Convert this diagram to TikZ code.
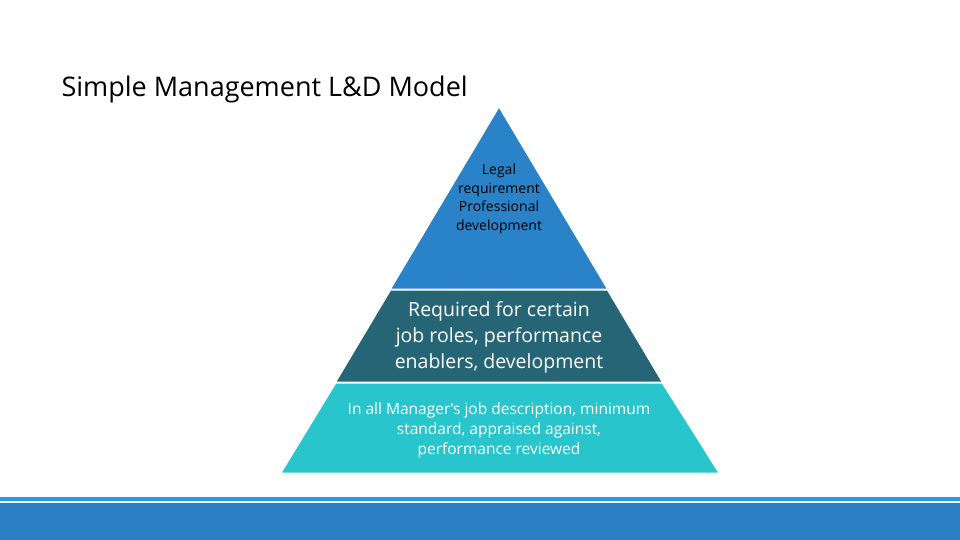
\documentclass[tikz,border=0pt]{standalone}
\usepackage{fontspec}
\setmainfont{Open Sans}
\definecolor{tiertop}{HTML}{2A82C8}
\definecolor{tiermid}{HTML}{256576}
\definecolor{tierbase}{HTML}{29C5CD}
\definecolor{barline}{HTML}{1FA2DC}
\definecolor{barband}{HTML}{2B80C5}
\tikzset{
  tier/.style={draw=white, line width=1pt},
  tiertext/.style={align=center, text=white},
}
\begin{document}
\begin{tikzpicture}[x=1pt, y=-1pt]
    \useasboundingbox (0,0) rectangle (960,540);

        % Title
        \node[anchor=base west, font=\fontsize{27}{32}\selectfont] at (58, 97) (title) {Simple Management L\&D Model};

        % Declare the tiers
        \fill[tier, fill=tiertop] (499,107) -- (607.4,289) -- (390.6,289) -- cycle;
        \fill[tier, fill=tiermid] (390.6,290) -- (607.4,290) -- (662.2,382) -- (335.8,382) -- cycle;
        \fill[tier, fill=tierbase] (335.8,383) -- (662.2,383) -- (719,473) -- (281,473) -- cycle;

        % Declare the labels
        \node[align=center, font=\fontsize{14}{18.5}\selectfont] at (499, 199) (top) {Legal\\requirement\\Professional\\development};
        \node[tiertext, font=\fontsize{19.5}{26}\selectfont] at (499, 337) (mid) {Required for certain\\job roles, performance\\enablers, development};
        \node[tiertext, font=\fontsize{15.5}{20}\selectfont] at (499, 430) (base) {In all Manager’s job description, minimum\\standard, appraised against,\\performance reviewed};

        % Declare the footer
        \fill[barline] (0,497) rectangle (960,501);
        \fill[barband] (0,503) rectangle (960,540);

    \end{tikzpicture}
\end{document}
